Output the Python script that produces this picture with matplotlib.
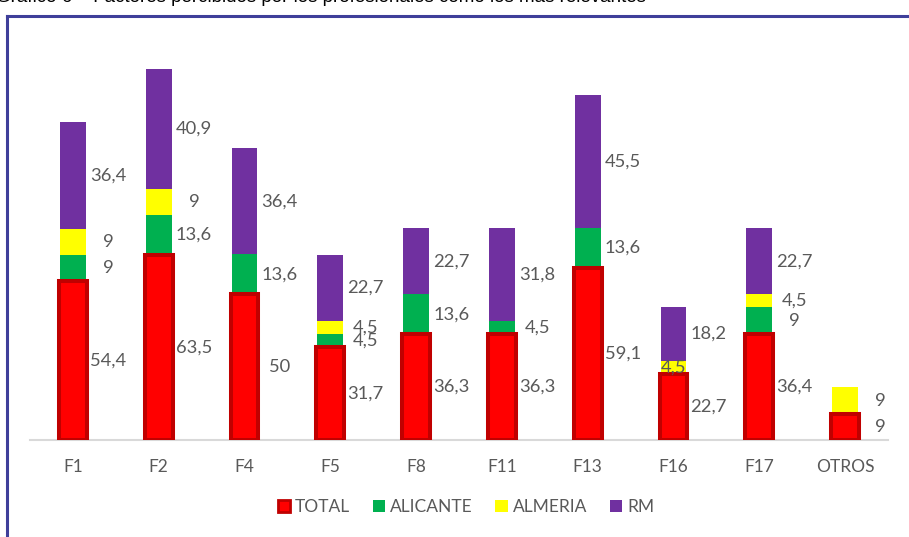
import numpy as np
import matplotlib.pyplot as plt
from matplotlib.patches import Patch
from matplotlib.lines import Line2D

categories = ["F1", "F2", "F4", "F5", "F8", "F11", "F13", "F16", "F17", "OTROS"]
total = [54.4, 63.5, 50, 31.7, 36.3, 36.3, 59.1, 22.7, 36.4, 9]
alicante = [9, 13.6, 13.6, 4.5, 13.6, 4.5, 13.6, 0, 9, 0]
almeria = [9, 9, 0, 4.5, 0, 0, 0, 4.5, 4.5, 9]
rm = [36.4, 40.9, 36.4, 22.7, 22.7, 31.8, 45.5, 18.2, 22.7, 0]
series_names = ["TOTAL", "ALICANTE", "ALMERIA", "RM"]

title = "Gráfico 6 – Factores percibidos por los profesionales como los más relevantes"

RED = "#FF0000"
DARKRED = "#C00000"
GREEN = "#00B050"
YELLOW = "#FFFF00"
PURPLE = "#7030A0"
TXT = "#595959"

plt.rcParams['font.family'] = ['Lato', 'DejaVu Sans']

W, H = 909, 537
fig = plt.figure(figsize=(W / 100, H / 100), dpi=100)
ax = fig.add_axes([30 / W, (H - 440) / H, (888 - 30) / W, 394 / H])

x = np.arange(len(categories))
tot = np.array(total, dtype=float)
ali = np.array(alicante, dtype=float)
alm = np.array(almeria, dtype=float)
r = np.array(rm, dtype=float)

ax.bar(x, tot, width=0.326, color=RED, edgecolor=DARKRED, linewidth=2.9, zorder=3)
ax.bar(x, ali, width=0.302, bottom=tot, color=GREEN, linewidth=0, zorder=2)
ax.bar(x, alm, width=0.302, bottom=tot + ali, color=YELLOW, linewidth=0, zorder=2)
ax.bar(x, r, width=0.302, bottom=tot + ali + alm, color=PURPLE, linewidth=0, zorder=2)


def fmt(v):
    if float(v).is_integer():
        return str(int(v))
    return f"{v:.1f}".replace(".", ",")


off = 0.41
bottoms = [np.zeros(len(x)), tot, tot + ali, tot + ali + alm]
for vals, bot in zip([tot, ali, alm, r], bottoms):
    for i, (v, b) in enumerate(zip(vals, bot)):
        if v == 0:
            continue
        dx = off
        if vals is alm and categories[i] == "F16":
            dx = 0
        ax.text(x[i] + dx, b + v / 2, fmt(v), ha="center", va="center",
                fontsize=13.2, color=TXT, zorder=5)

ax.set_xlim(-0.5, len(categories) - 0.5)
ax.set_ylim(0, 135)
ax.set_xticks(x)
ax.set_xticklabels(categories, fontsize=12.5, color=TXT)
ax.tick_params(axis="x", length=0, pad=14)
ax.set_yticks([])
for s in ["top", "right", "left"]:
    ax.spines[s].set_visible(False)
ax.spines["bottom"].set_color("#D9D9D9")
ax.spines["bottom"].set_linewidth(1.5)
ax.spines["bottom"].set_zorder(1)

handles = [
    Patch(facecolor=RED, edgecolor=DARKRED, linewidth=2),
    Patch(facecolor=GREEN, edgecolor="none"),
    Patch(facecolor=YELLOW, edgecolor="none"),
    Patch(facecolor=PURPLE, edgecolor="none"),
]
fig.legend(handles, series_names, loc="center", bbox_to_anchor=(466 / W, 1 - 507 / H),
           ncol=4, frameon=False, fontsize=12.5, labelcolor=TXT,
           handlelength=0.7, handleheight=0.7, handletextpad=0.3, columnspacing=1.3)

# frame around the chart (right and bottom sides cut off in the original)
fig.add_artist(Line2D([7 / W, 1], [1 - 16 / H, 1 - 16 / H], color="#3F3F9A", linewidth=2.2))
fig.add_artist(Line2D([7 / W, 7 / W], [0, 1 - 16 / H], color="#3F3F9A", linewidth=2.2))

# cut-off caption above the frame
fig.text(-0.004, 1 - 2.5 / H, title, ha="left", va="baseline", fontsize=13.5,
         color="black", family=["Liberation Sans", "DejaVu Sans"])

fig.savefig("out.png", dpi=100)
